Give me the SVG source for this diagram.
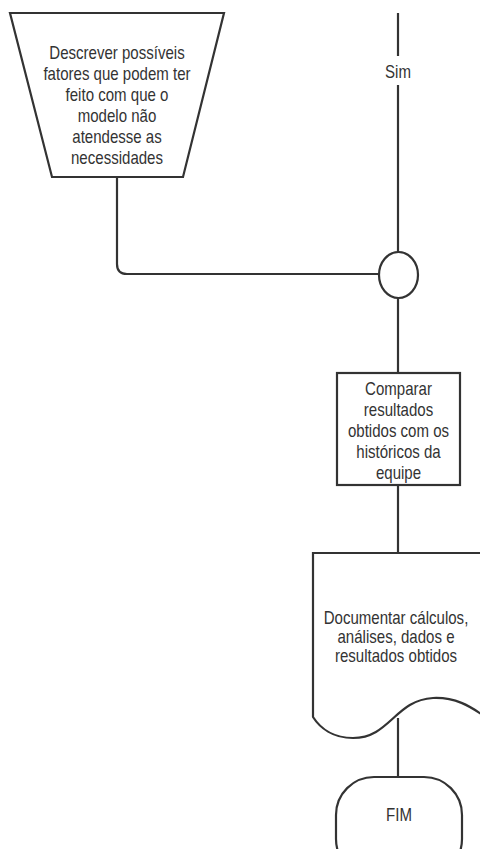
<svg xmlns="http://www.w3.org/2000/svg" width="480" height="849" viewBox="0 0 480 849">
  <style>
    .shape { fill: #ffffff; stroke: #333333; stroke-width: 2.2; }
    .wire { fill: none; stroke: #333333; stroke-width: 2.2; }
    .label { font-family: "Liberation Sans", Arial, sans-serif; font-size: 17.5px; fill: #333333; text-anchor: middle; dominant-baseline: central; }
  </style>
  <rect width="480" height="849" fill="#ffffff"/>

  <!-- connectors -->
  <g id="connectors">
    <path class="wire" d="M398 13 V56"/>
    <path class="wire" d="M398 85 V252"/>
    <path class="wire" d="M117 177 V264 Q117 274 127 274 H379"/>
    <path class="wire" d="M398 298 V373"/>
    <path class="wire" d="M398 485 V553"/>
    <path class="wire" d="M398 718 V777"/>
  </g>

  <!-- edge label (labels are narrowed horizontally) -->
  <g id="label-sim" transform="matrix(0.86 0 0 1 398 0)">
    <text class="label" x="0" y="72">Sim</text>
  </g>

  <!-- manual operation -->
  <g id="node-descrever">
    <polygon class="shape" points="10,13 224,13 183,177 52,177"/>
    <g transform="matrix(0.86 0 0 1 117 0)">
      <text class="label" x="0" y="53">Descrever possíveis</text>
      <text class="label" x="0" y="74">fatores que podem ter</text>
      <text class="label" x="0" y="95">feito com que o</text>
      <text class="label" x="0" y="116">modelo não</text>
      <text class="label" x="0" y="137">atendesse as</text>
      <text class="label" x="0" y="158">necessidades</text>
    </g>
  </g>

  <!-- merge connector -->
  <g id="node-merge">
    <ellipse class="shape" cx="398.5" cy="275" rx="19.5" ry="23"/>
  </g>

  <!-- process -->
  <g id="node-comparar">
    <rect class="shape" x="337" y="373" width="123" height="112"/>
    <g transform="matrix(0.86 0 0 1 398.5 0)">
      <text class="label" x="0" y="389">Comparar</text>
      <text class="label" x="0" y="410">resultados</text>
      <text class="label" x="0" y="431">obtidos com os</text>
      <text class="label" x="0" y="452">históricos da</text>
      <text class="label" x="0" y="473">equipe</text>
    </g>
  </g>

  <!-- document -->
  <g id="node-documentar">
    <path class="shape" d="M313 553 H484 V716 C470 706 455 697 433 698 C395 700 390 738 353 738 C333 738 320 728 313 717 Z"/>
    <g transform="matrix(0.86 0 0 1 396 0)">
      <text class="label" x="0" y="618">Documentar cálculos,</text>
      <text class="label" x="0" y="637">análises, dados e</text>
      <text class="label" x="0" y="656">resultados obtidos</text>
    </g>
  </g>

  <!-- terminator -->
  <g id="node-fim">
    <rect class="shape" x="336" y="777" width="126" height="100" rx="38" ry="38"/>
    <g transform="matrix(0.86 0 0 1 399 0)">
      <text class="label" x="0" y="815">FIM</text>
    </g>
  </g>
</svg>
